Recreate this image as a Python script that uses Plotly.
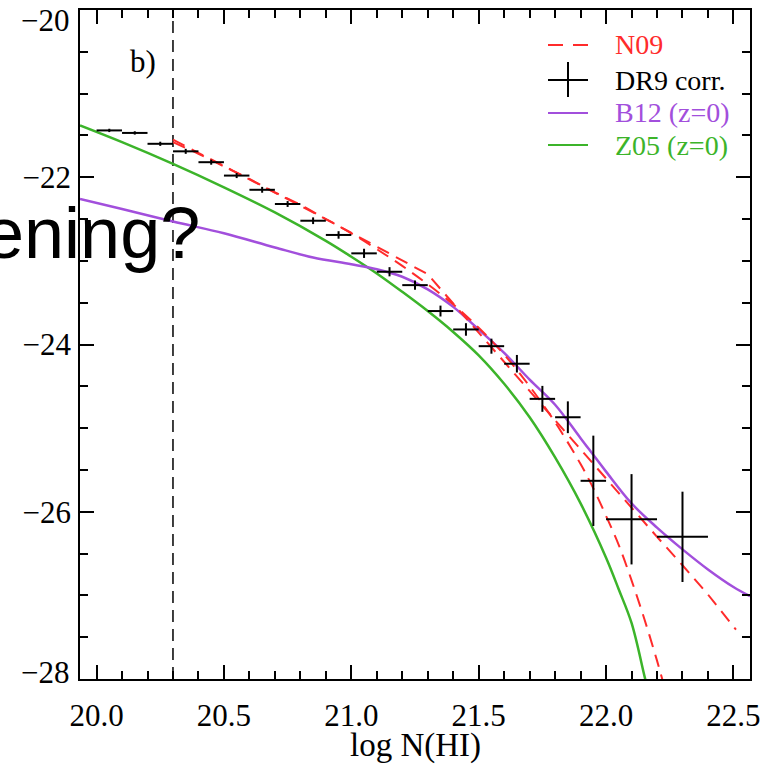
import plotly.graph_objects as go

# ---- DR9 corrected f(N) points: bin centres, values, half-widths, errors ----
dr9_logn = [20.05, 20.15, 20.25, 20.35, 20.45, 20.55, 20.65, 20.75, 20.85, 20.95,
            21.05, 21.15, 21.25, 21.35, 21.45, 21.55, 21.65, 21.75, 21.85, 21.95,
            22.10, 22.30]
dr9_logf = [-21.44, -21.47, -21.60, -21.69, -21.82, -21.98, -22.15, -22.32, -22.52, -22.69,
            -22.91, -23.13, -23.29, -23.60, -23.82, -24.02, -24.23, -24.65, -24.87, -25.63,
            -26.09, -26.30]
dr9_dx = [0.05, 0.05, 0.05, 0.05, 0.05, 0.05, 0.05, 0.05, 0.05, 0.05,
          0.05, 0.05, 0.05, 0.05, 0.05, 0.05, 0.05, 0.05, 0.05, 0.05,
          0.10, 0.10]
dr9_dy = [0.02, 0.02, 0.025, 0.03, 0.03, 0.03, 0.035, 0.035, 0.04, 0.045,
          0.055, 0.055, 0.055, 0.065, 0.075, 0.09, 0.105, 0.155, 0.19, 0.54,
          0.54, 0.54]

# ---- N09 fits: gamma function and double power law ----
n09_gamma_logn = [20.3, 20.4, 20.5, 20.6, 20.7, 20.8, 20.9, 21.0, 21.1, 21.2, 21.3, 21.4,
                  21.5, 21.6, 21.7, 21.8, 21.9, 21.95, 22.0, 22.05, 22.1, 22.15, 22.2, 22.225]
n09_gamma_logf = [-21.58, -21.72, -21.87, -22.02, -22.18, -22.33, -22.50, -22.67, -22.86,
                  -23.06, -23.28, -23.52, -23.80, -24.12, -24.50, -24.93, -25.43, -25.72,
                  -26.05, -26.40, -26.82, -27.28, -27.78, -28.05]

n09_dpl_logn = [20.3, 20.5, 20.7, 20.9, 21.1, 21.2, 21.3, 21.4, 21.5, 21.6, 21.7, 21.8,
                21.9, 22.0, 22.1, 22.2, 22.3, 22.4, 22.51]
n09_dpl_logf = [-21.55, -21.87, -22.18, -22.50, -22.83, -22.99, -23.16, -23.51, -23.86,
                -24.21, -24.55, -24.90, -25.25, -25.60, -25.95, -26.30, -26.64, -26.99, -27.41]

# ---- B12 (z=0) ----
b12_logn = [19.935, 20.1, 20.3, 20.5, 20.7, 20.85, 21.0, 21.1, 21.2, 21.3, 21.4, 21.5,
            21.6, 21.7, 21.8, 21.9, 22.0, 22.1, 22.2, 22.3, 22.4, 22.5, 22.565]
b12_logf = [-22.26, -22.38, -22.53, -22.67, -22.84, -22.96, -23.04, -23.10, -23.19, -23.34,
            -23.55, -23.82, -24.10, -24.42, -24.72, -25.12, -25.52, -25.90, -26.19, -26.45,
            -26.69, -26.90, -27.01]

# ---- Z05 (z=0) ----
z05_logn = [19.935, 20.1, 20.3, 20.5, 20.7, 20.9, 21.0, 21.1, 21.2, 21.3, 21.4, 21.5,
            21.6, 21.7, 21.8, 21.9, 22.0, 22.05, 22.1, 22.152, 22.17]
z05_logf = [-21.38, -21.58, -21.84, -22.12, -22.42, -22.76, -22.95, -23.15, -23.37, -23.60,
            -23.85, -24.13, -24.47, -24.87, -25.35, -25.90, -26.55, -26.93, -27.33, -27.98,
            -28.20]

dla_threshold = 20.3
x_range = [19.935, 22.565]
y_range = [-28.0, -20.0]

# y tick labels: the inner ones sit on their ticks, the two end labels are
# nudged inside the frame
y_inner_ticks = [-22, -24, -26]
y_end_ticks = [-20, -28]
y_end_label_px = [21, 672]

RED = "#ff2b2b"
PURPLE = "#a24fdc"
GREEN = "#3cb42a"
SERIF = "Liberation Serif"

fig = go.Figure()

# DLA column density threshold
fig.add_trace(go.Scatter(
    x=[dla_threshold, dla_threshold], y=y_range, mode="lines",
    line=dict(color="black", width=1.5, dash="12px,7px"), showlegend=False))

fig.add_trace(go.Scatter(
    x=z05_logn, y=z05_logf, mode="lines", line=dict(color=GREEN, width=2.5, shape="spline"),
    showlegend=False))
fig.add_trace(go.Scatter(
    x=b12_logn, y=b12_logf, mode="lines", line=dict(color=PURPLE, width=2.5, shape="spline"),
    showlegend=False))
fig.add_trace(go.Scatter(
    x=n09_gamma_logn, y=n09_gamma_logf, mode="lines",
    line=dict(color=RED, width=2, dash="13px,8px", shape="spline"), showlegend=False))
fig.add_trace(go.Scatter(
    x=n09_dpl_logn, y=n09_dpl_logf, mode="lines",
    line=dict(color=RED, width=2, dash="13px,8px"), showlegend=False))

fig.add_trace(go.Scatter(
    x=dr9_logn, y=dr9_logf, mode="markers",
    marker=dict(size=1, color="rgba(0,0,0,0)"),
    error_x=dict(type="data", array=dr9_dx, color="black", thickness=2, width=0),
    error_y=dict(type="data", array=dr9_dy, color="black", thickness=2, width=0),
    showlegend=False))

# ---- plot-area geometry in pixels (for the key and labels) ----
W, H = 765, 770
ML, MR, MT, MB = 80, 15, 10, 91
PW, PH = W - ML - MR, H - MT - MB


def px(xp):
    return (xp - ML) / PW


def py(yp):
    return (H - MB - yp) / PH


# ---- key ----
shapes = [
    dict(type="line", xref="paper", yref="paper", x0=px(548), x1=px(588), y0=py(45), y1=py(45),
         line=dict(color=RED, width=2, dash="15px,10px")),
    dict(type="line", xref="paper", yref="paper", x0=px(548), x1=px(588), y0=py(80), y1=py(80),
         line=dict(color="black", width=2)),
    dict(type="line", xref="paper", yref="paper", x0=px(568), x1=px(568), y0=py(62), y1=py(97),
         line=dict(color="black", width=2)),
    dict(type="line", xref="paper", yref="paper", x0=px(548), x1=px(588), y0=py(113), y1=py(113),
         line=dict(color=PURPLE, width=2)),
    dict(type="line", xref="paper", yref="paper", x0=px(548), x1=px(588), y0=py(145), y1=py(145),
         line=dict(color=GREEN, width=2)),
]

key_labels = [("N09", RED, 45), ("DR9 corr.", "black", 80),
              ("B12 (z=0)", PURPLE, 113), ("Z05 (z=0)", GREEN, 145)]
annotations = []
for text, col, ypix in key_labels:
    annotations.append(dict(text=text, xref="paper", yref="paper", x=px(613), y=py(ypix),
                            xanchor="left", yanchor="middle", showarrow=False,
                            font=dict(family=SERIF, size=28, color=col)))

annotations.append(dict(text="b)", xref="paper", yref="paper", x=px(143), y=py(62),
                        xanchor="center", yanchor="middle", showarrow=False,
                        font=dict(family=SERIF, size=31, color="black")))

for val, ypix in zip(y_end_ticks, y_end_label_px):
    annotations.append(dict(text="\u2212%d" % abs(val), xref="paper", yref="paper",
                            x=px(71), y=py(ypix), xanchor="right", yanchor="middle",
                            showarrow=False,
                            font=dict(family=SERIF, size=31, color="black")))

# x-axis title
annotations.append(dict(text="log N(HI)", xref="paper", yref="paper", x=0.5, y=py(745),
                        xanchor="center", yanchor="middle", showarrow=False,
                        font=dict(family=SERIF, size=33, color="black")))

# slide title fragment lying over the panel
annotations.append(dict(text="ening?", xref="paper", yref="paper", x=px(202), y=py(233),
                        xanchor="right", yanchor="middle", showarrow=False,
                        font=dict(family="Liberation Sans", size=72, color="black")))

axis_common = dict(
    ticks="inside", tickcolor="black", tickwidth=1.5, ticklen=14,
    mirror="allticks", showline=True, linecolor="black", linewidth=1.5,
    showgrid=False, zeroline=False, automargin=False,
    tickfont=dict(family=SERIF, size=31, color="black"),
)

fig.update_layout(
    template="none",
    width=W, height=H,
    margin=dict(l=ML, r=MR, t=MT, b=MB, pad=0, autoexpand=False),
    paper_bgcolor="white", plot_bgcolor="white",
    showlegend=False,
    shapes=shapes,
    annotations=annotations,
    xaxis=dict(range=x_range, tick0=20.0, dtick=0.5, tickformat=".1f",
               ticklabelstandoff=8, ticklabeloverflow="allow",
               minor=dict(tick0=20.0, dtick=0.1, ticks="inside", ticklen=8,
                          tickwidth=1.5, tickcolor="black", showgrid=False),
               **axis_common),
    yaxis=dict(range=y_range, tickmode="array", tickvals=y_inner_ticks, ticklabelstandoff=1,
               minor=dict(tick0=-20, dtick=0.5, ticks="inside", ticklen=8,
                          tickwidth=1.5, tickcolor="black", showgrid=False),
               **axis_common),
)

fig.write_html("out.html")
